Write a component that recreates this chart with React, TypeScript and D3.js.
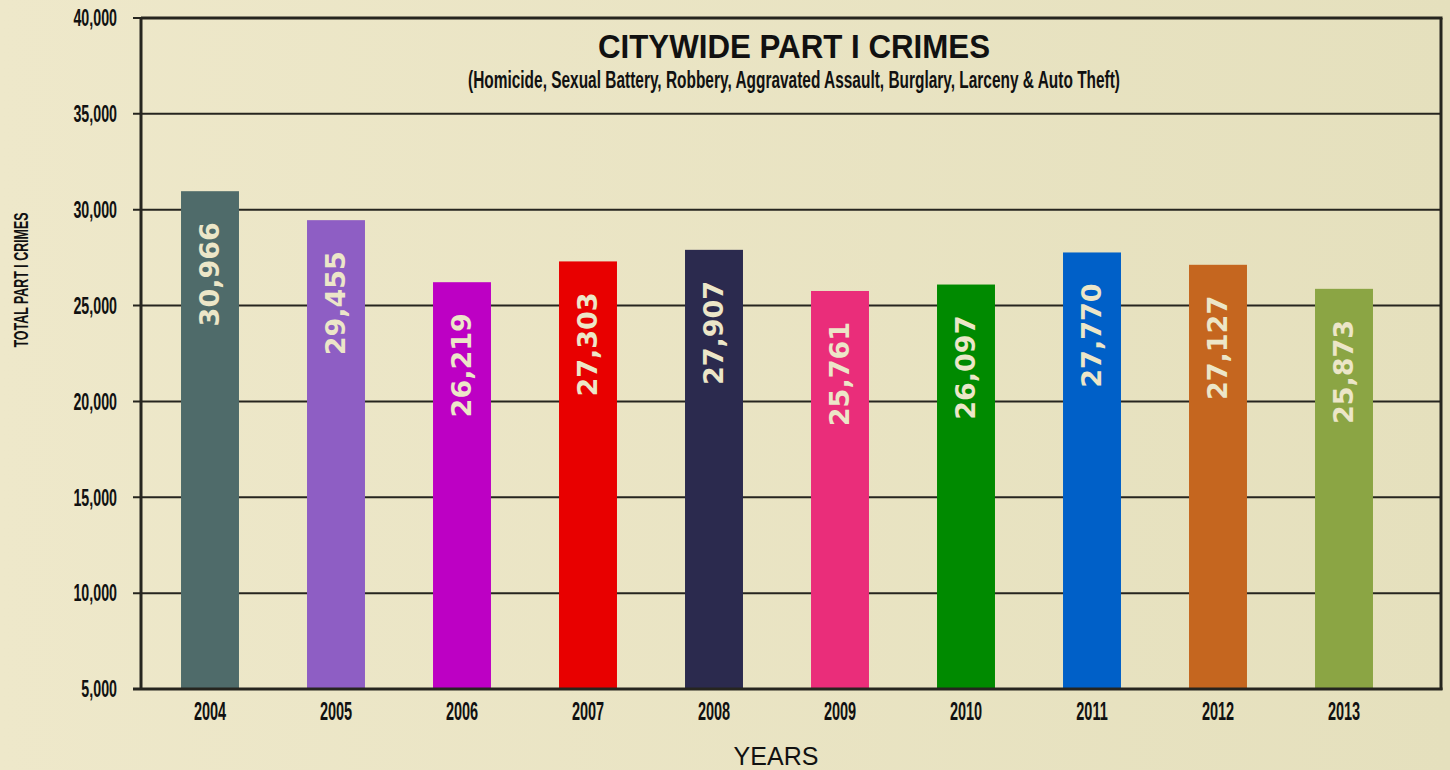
import * as React from 'react';
import * as d3 from 'd3';

const years = ['2004', '2005', '2006', '2007', '2008', '2009', '2010', '2011', '2012', '2013'];
const totals = [30966, 29455, 26219, 27303, 27907, 25761, 26097, 27770, 27127, 25873];
const barColors = [
  '#4F6B6A', '#8E5EC4', '#BD00C4', '#E80000', '#2B2A4E',
  '#EA2D7A', '#008A00', '#0060C8', '#C5661F', '#8BA544',
];
const yTickValues = [5000, 10000, 15000, 20000, 25000, 30000, 35000, 40000];

const W = 1450;
const H = 770;
const plot = { left: 141, right: 1441, top: 18, bottom: 689 };
const ink = '#26251f';
const cream = '#ECE6C8';
const narrow = '"Liberation Sans", Arial, sans-serif';

export default function App() {
  const y = d3.scaleLinear().domain([5000, 40000]).range([plot.bottom, plot.top]);
  const x = d3.scaleBand<string>()
    .domain(years)
    .range([147, 1407])
    .paddingInner(0.54)
    .paddingOuter(0.27);
  const fmt = d3.format(',');
  const midX = (plot.left + plot.right) / 2;

  return (
    <svg width={W} height={H} style={{ position: 'absolute', left: 0, top: 0, display: 'block' }}>
      <defs>
        <linearGradient id="bg" x1="0" y1="0" x2="1" y2="0">
          <stop offset="0" stopColor="#EEE8CA" />
          <stop offset="1" stopColor="#E5E0BD" />
        </linearGradient>
      </defs>
      <rect width={W} height={H} fill="url(#bg)" />

      {/* grid + ticks */}
      {yTickValues.map((t) => (
        <g key={t} transform={`translate(0,${y(t)})`}>
          <line x1={plot.left - 8} x2={plot.right} stroke={ink} strokeWidth={2} />
          <text
            transform={`translate(${plot.left - 24},0) scale(0.62,1)`}
            textAnchor="end"
            dy="0.36em"
            fontFamily={narrow}
            fontWeight="bold"
            fontSize={23}
            fill="#111"
          >
            {fmt(t)}
          </text>
        </g>
      ))}

      {/* bars */}
      {years.map((yr, i) => {
        const top = y(totals[i]);
        const cx = (x(yr) as number) + x.bandwidth() / 2;
        return (
          <g key={yr}>
            <rect
              x={x(yr)}
              y={top}
              width={x.bandwidth()}
              height={plot.bottom - top}
              fill={barColors[i]}
            />
            <text
              transform={`translate(${cx + 9},${top + 31}) rotate(-90)`}
              textAnchor="end"
              fontFamily='"DejaVu Sans", Verdana, sans-serif'
              fontWeight="bold"
              fontSize={27}
              fill={cream}
            >
              {fmt(totals[i])}
            </text>
            <text
              transform={`translate(${cx},720) scale(0.58,1)`}
              textAnchor="middle"
              fontFamily={narrow}
              fontWeight="bold"
              fontSize={25}
              fill="#111"
            >
              {yr}
            </text>
          </g>
        );
      })}

      {/* frame */}
      <line x1={plot.left} x2={plot.left} y1={plot.top} y2={plot.bottom + 1} stroke={ink} strokeWidth={3} />
      <line x1={plot.right} x2={plot.right} y1={plot.top} y2={plot.bottom + 1} stroke={ink} strokeWidth={3} />
      <line x1={plot.left} x2={plot.right + 1.5} y1={plot.top} y2={plot.top} stroke={ink} strokeWidth={3} />
      <line x1={plot.left - 8} x2={plot.right + 1.5} y1={plot.bottom} y2={plot.bottom} stroke={ink} strokeWidth={3} />

      {/* titles */}
      <text
        x={midX + 3}
        y={58}
        textAnchor="middle"
        fontFamily={narrow}
        fontWeight="bold"
        fontSize={33}
        textLength={392}
        lengthAdjust="spacingAndGlyphs"
        fill="#111"
      >
        CITYWIDE PART I CRIMES
      </text>
      <text
        x={midX + 3}
        y={88}
        textAnchor="middle"
        fontFamily={narrow}
        fontWeight="bold"
        fontSize={23}
        textLength={652}
        lengthAdjust="spacingAndGlyphs"
        fill="#111"
      >
        (Homicide, Sexual Battery, Robbery, Aggravated Assault, Burglary, Larceny &amp; Auto Theft)
      </text>
      <text
        transform="translate(28,280) rotate(-90)"
        textAnchor="middle"
        fontFamily={narrow}
        fontWeight="bold"
        fontSize={20}
        textLength={135}
        lengthAdjust="spacingAndGlyphs"
        fill="#111"
      >
        TOTAL PART I CRIMES
      </text>
      <text x={776} y={765} textAnchor="middle" fontFamily={narrow} fontSize={25} fill="#111">
        YEARS
      </text>
    </svg>
  );
}
